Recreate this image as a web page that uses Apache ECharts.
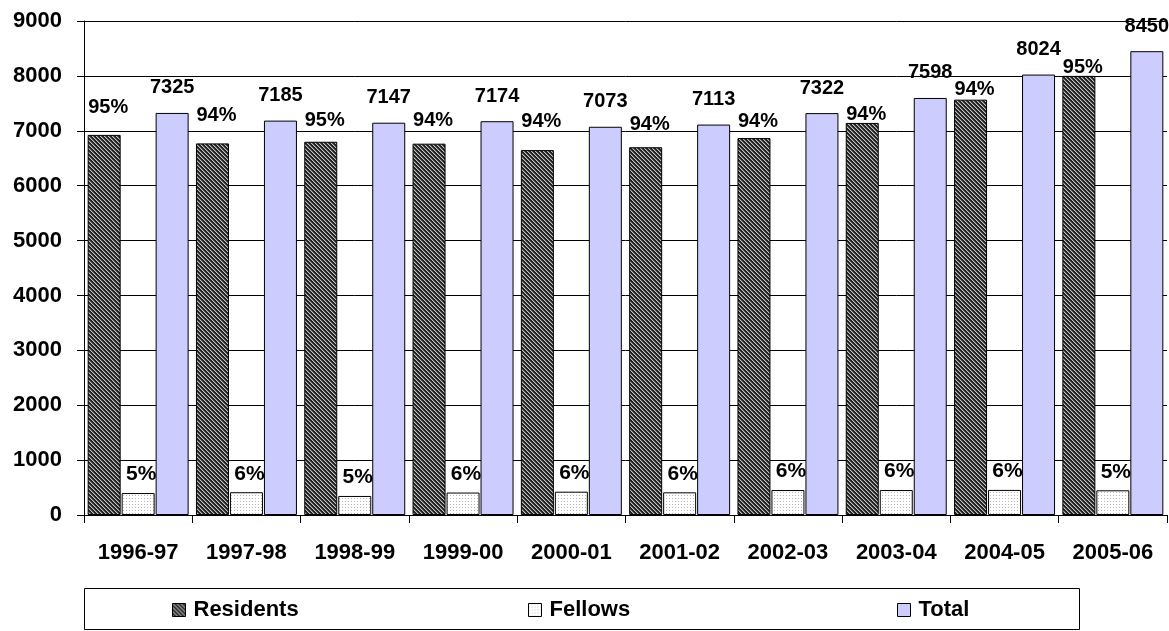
<!DOCTYPE html>
<html>
<head>
<meta charset="utf-8">
<script src="https://cdn.jsdelivr.net/npm/echarts@6/dist/echarts.min.js"></script>
<style>
html,body{margin:0;padding:0;background:#fff;}
#chart{width:1169px;height:631px;}
</style>
</head>
<body>
<div id="chart"></div>
<script>
// ---- data ----
const categories = ['1996-97','1997-98','1998-99','1999-00','2000-01','2001-02','2002-03','2003-04','2004-05','2005-06'];
const residents = [6925, 6770, 6800, 6765, 6648, 6700, 6867, 7143, 7567, 8000];
const fellows = [400, 415, 347, 409, 425, 413, 455, 455, 457, 450];
const totals = [7325, 7185, 7147, 7174, 7073, 7113, 7322, 7598, 8024, 8450];
const residentsPct = ['95%','94%','95%','94%','94%','94%','94%','94%','94%','95%'];
const fellowsPct = ['5%','6%','5%','6%','6%','6%','6%','6%','6%','5%'];
const seriesNames = ['Residents','Fellows','Total'];
const yMin = 0, yMax = 9000, yStep = 1000;

// ---- styles ----
const residentsLabelLift = [20, 21, 14, 16, 22, 16, 10, 1, 3, 1];
const FONT = '"Liberation Sans", Arial, sans-serif';

function makePattern(size, fn) {
  const c = document.createElement('canvas');
  c.width = size; c.height = size;
  const ctx = c.getContext('2d');
  for (let y = 0; y < size; y++) {
    for (let x = 0; x < size; x++) {
      ctx.fillStyle = fn(x, y);
      ctx.fillRect(x, y, 1, 1);
    }
  }
  return c;
}
const hatch = makePattern(4, (x, y) => {
  const k = ((x - y) % 4 + 4) % 4;
  return k === 0 ? '#c0c0c0' : (k === 1 ? '#606060' : '#222222');
});
const dots = makePattern(3, (x, y) => (x === 0 && y === 0) ? '#b8b8b8' : '#ffffff');
const residentsColor = { image: hatch, repeat: 'repeat' };
const fellowsColor = { image: dots, repeat: 'repeat' };
const totalColor = '#CCCCFF';

const chart = echarts.init(document.getElementById('chart'), null, { renderer: 'canvas' });

const labelBase = { show: true, fontFamily: FONT, fontWeight: 'bold', fontSize: 20, color: '#000' };

const option = {
  animation: false,
  backgroundColor: '#fff',
  textStyle: { fontFamily: FONT },
  grid: { left: 84, right: 2, top: 21, bottom: 116, containLabel: false },
  xAxis: {
    type: 'category',
    data: categories,
    axisLine: { show: true, lineStyle: { color: '#000', width: 1 } },
    axisTick: { show: true, interval: 0, length: 8, lineStyle: { color: '#000' } },
    axisLabel: { interval: 0, hideOverlap: false, fontFamily: FONT, fontWeight: 'bold', fontSize: 22, color: '#000', margin: 27 },
    splitLine: { show: false }
  },
  yAxis: {
    type: 'value',
    min: yMin, max: yMax, interval: yStep,
    axisLine: { show: true, lineStyle: { color: '#000', width: 1 } },
    axisTick: { show: true, length: 7, lineStyle: { color: '#000' } },
    axisLabel: { fontFamily: FONT, fontWeight: 'bold', fontSize: 22, color: '#000', margin: 22,
      formatter: (v) => String(v) },
    splitLine: { show: true, lineStyle: { color: '#000', width: 1 } }
  },
  legend: [
    { data: [seriesNames[0]], left: 172, top: 599 },
    { data: [seriesNames[1]], left: 528, top: 599 },
    { data: [seriesNames[2]], left: 897, top: 599 }
  ].map(l => Object.assign(l, {
    orient: 'horizontal', padding: 0, itemWidth: 13, itemHeight: 13,
    icon: 'rect',
    itemStyle: { borderColor: '#000', borderWidth: 1 },
    textStyle: { fontFamily: FONT, fontWeight: 'bold', fontSize: 22, color: '#000', padding: [0, 0, 0, 3] }
  })),
  graphic: [{
    type: 'rect', silent: true,
    shape: { x: 84.5, y: 588.5, width: 995, height: 41 },
    style: { fill: 'none', stroke: '#000', lineWidth: 1 }
  }],
  series: [
    {
      name: seriesNames[0], type: 'bar', barWidth: 33, barGap: '3%', barCategoryGap: '8%',
      itemStyle: { color: residentsColor, borderColor: '#000', borderWidth: 1 },
      data: residents.map((v, i) => ({
        value: v,
        label: Object.assign({}, labelBase, {
          position: 'top', distance: residentsLabelLift[i] - 3, offset: [4, 0],
          formatter: () => residentsPct[i]
        })
      }))
    },
    {
      name: seriesNames[1], type: 'bar', barWidth: 33,
      itemStyle: { color: fellowsColor, borderColor: '#000', borderWidth: 1 },
      label: Object.assign({}, labelBase, {
        position: 'top', distance: 8, offset: [3, 0], fontSize: 21,
        formatter: (p) => fellowsPct[p.dataIndex]
      }),
      data: fellows
    },
    {
      name: seriesNames[2], type: 'bar', barWidth: 33,
      itemStyle: { color: totalColor, borderColor: '#000', borderWidth: 1 },
      label: Object.assign({}, labelBase, {
        position: 'top', distance: 15,
        formatter: (p) => String(totals[p.dataIndex])
      }),
      data: totals
    }
  ]
};
chart.setOption(option);
</script>
</body>
</html>
